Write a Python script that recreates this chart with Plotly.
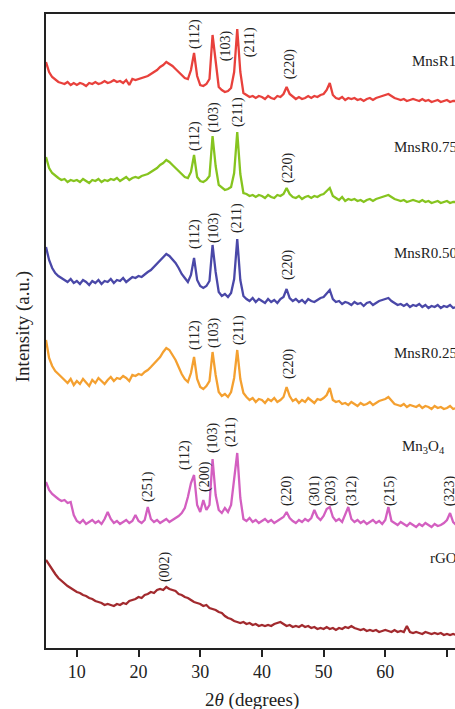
import numpy as np
import plotly.graph_objects as go

# 2-theta grid (degrees)
two_theta = np.arange(5.0, 71.51, 0.5)

# Relative intensities (a.u.), each series on its own baseline
mnsr1 = [38, 28, 23, 20, 18, 17, 16, 18, 15, 17,
         15, 17, 16, 14, 17, 16, 18, 16, 17, 19,
         17, 18, 20, 18, 19, 17, 20, 15, 21, 20,
         21, 22, 23, 24, 26, 28, 30, 33, 35, 38,
         36, 34, 31, 28, 25, 22, 21, 30, 47, 24,
         15, 14, 16, 21, 65, 36, 13, 10, 8, 9,
         12, 28, 71, 28, 7, 5, 3, 4, 2, 4,
         3, 1, 4, 2, 1, 4, 3, 6, 13, 6,
         3, 1, 3, 1, 2, 4, 2, 4, 3, 5,
         6, 10, 17, 5, 2, 1, 3, 0, 2, 1,
         2, 0, 1, -1, 1, 2, 0, 2, 3, 4,
         5, 6, 4, 2, 1, 0, 1, -1, 0, 1,
         0, -1, 1, -1, 0, -2, -1, 0, -2, -1,
         0, -2, -1, -1]

mnsr075 = [43, 32, 27, 24, 22, 20, 21, 18, 20, 19,
           20, 18, 21, 19, 17, 20, 19, 21, 18, 20,
           19, 21, 20, 22, 19, 21, 23, 20, 22, 23,
           22, 24, 25, 26, 28, 30, 32, 35, 37, 40,
           38, 35, 32, 29, 26, 23, 22, 28, 45, 23,
           19, 18, 20, 24, 64, 34, 15, 12, 10, 11,
           13, 27, 68, 26, 7, 6, 4, 5, 3, 5,
           4, 2, 5, 3, 2, 5, 4, 6, 12, 6,
           3, 2, 4, 1, 3, 4, 2, 4, 3, 5,
           6, 9, 12, 4, 2, 0, 3, -1, 1, 0,
           1, -1, 0, -2, 0, 1, -1, 1, 2, 3,
           4, 5, 3, 1, 0, -1, 0, -2, -1, 0,
           -1, -2, 0, -2, -1, -3, -2, -1, -3, -2,
           -1, -3, -2, -2]

mnsr050 = [58, 45, 37, 32, 29, 27, 25, 23, 26, 22,
           24, 21, 25, 23, 20, 24, 22, 25, 21, 24,
           23, 26, 22, 25, 24, 27, 23, 26, 28, 27,
           29, 28, 31, 33, 35, 38, 41, 45, 48, 51,
           49, 46, 42, 37, 31, 27, 23, 30, 47, 25,
           19, 17, 19, 24, 60, 33, 13, 9, 11, 8,
           12, 26, 66, 25, 9, 6, 4, 7, 3, 6,
           4, 2, 6, 3, 5, 2, 6, 8, 16, 7,
           4, 6, 3, 5, 2, 6, 4, 3, 5, 7,
           8, 11, 15, 6, 3, 4, 1, 3, 2, 0,
           3, 1, 2, -1, 2, 3, 0, 2, 4, 5,
           6, 7, 4, 2, 0, 1, -1, 1, -2, 0,
           -1, 1, -2, 0, -3, -1, -2, 0, -3, -1,
           -2, 0, -3, -2]

mnsr025 = [65, 47, 39, 34, 31, 28, 25, 22, 26, 20,
           24, 21, 26, 23, 19, 25, 22, 27, 24, 21,
           25, 28, 24, 27, 26, 29, 27, 24, 30, 29,
           31, 30, 33, 35, 38, 41, 44, 48, 53, 57,
           55, 50, 45, 38, 31, 26, 23, 32, 48, 26,
           18, 16, 19, 24, 53, 30, 13, 9, 11, 8,
           13, 27, 55, 26, 12, 8, 5, 7, 3, 6,
           5, 2, 6, 4, 7, 3, 5, 8, 18, 9,
           4, 6, 2, 5, 3, 7, 4, 2, 6, 5,
           7, 10, 17, 5, 3, 4, 1, 2, 0, 3,
           1, -1, 2, 0, 1, 3, 0, 2, 4, 5,
           6, 8, 4, 1, 0, -1, 1, -2, 0, -1,
           -2, 0, -3, -1, -2, -4, -1, -3, -2, -4,
           -3, -1, -4, -3]

mn3o4 = [43, 35, 31, 28, 26, 24, 25, 22, 23, 10,
         4, 2, 5, 1, 3, 5, 2, 4, 1, 6,
         13, 6, 2, 4, 1, 3, 5, 2, 4, 10,
         4, 2, 5, 18, 6, 3, 5, 2, 4, 6,
         3, 5, 7, 9, 12, 17, 28, 42, 50, 20,
         13, 25, 15, 20, 66, 30, 15, 12, 17, 13,
         20, 45, 72, 27, 6, 4, 7, 3, 5, 2,
         4, 6, 3, 5, 2, 4, 6, 8, 13, 7,
         4, 2, 5, 3, 6, 4, 7, 15, 8, 5,
         9, 16, 18, 8, 4, 6, 3, 10, 18, 6,
         3, 5, 2, 4, 1, 3, 5, 2, 4, 1,
         5, 18, 4, 2, 0, 3, 1, -1, 2, 0,
         -2, 1, -1, 2, 0, -2, 1, -1, 0, 2,
         5, 12, 3, 0]

rgo = [75, 70, 65, 61, 57, 54, 51, 49, 47, 45,
       43, 42, 40, 39, 37, 36, 34, 33, 32, 30,
       31, 30, 29, 31, 30, 32, 31, 34, 35, 36,
       38, 37, 40, 41, 43, 42, 45, 46, 45, 48,
       46, 45, 44, 41, 40, 38, 37, 35, 33, 32,
       31, 29, 30, 27, 26, 25, 23, 22, 19, 17,
       16, 14, 13, 12, 13, 11, 12, 10, 11, 9,
       10, 9, 10, 9, 11, 12, 13, 11, 9, 10,
       8, 9, 8, 10, 8, 9, 7, 8, 6, 7,
       6, 8, 6, 7, 5, 7, 6, 8, 7, 9,
       7, 6, 5, 6, 4, 5, 4, 5, 3, 4,
       5, 4, 3, 5, 3, 4, 3, 9, 3, 2,
       3, 2, 1, 3, 2, 1, 2, 1, 2, 0,
       1, 0, 1, 0]

series_names = ["MnsR1", "MnsR0.75", "MnsR0.50", "MnsR0.25", "Mn<sub>3</sub>O<sub>4</sub>", "rGO"]
series_values = [mnsr1, mnsr075, mnsr050, mnsr025, mn3o4, rgo]
stack_offsets = [548, 448, 343, 243, 123, 13]
colors = ["#e8413c", "#86c41f", "#4a48a8", "#f4a030", "#d35fc0", "#a22a2e"]

# Miller-index labels: (text, 2theta position, intensity position)
peak_labels = [
    ("(112)", 29.16, 614), ("(103)", 34.2, 602), ("(211)", 38.1, 606), ("(220)", 44.6, 584),
    ("(112)", 29.16, 512), ("(103)", 32.16, 531), ("(211)", 36.13, 536), ("(220)", 44.24, 480),
    ("(112)", 29.16, 414), ("(103)", 32.24, 420), ("(211)", 35.97, 430), ("(220)", 44.24, 383),
    ("(112)", 29.16, 313), ("(103)", 32.24, 315), ("(211)", 36.3, 318), ("(220)", 44.4, 284),
    ("(251)", 21.54, 161), ("(112)", 27.54, 193), ("(200)", 30.78, 171), ("(103)", 32.08, 210),
    ("(211)", 35.0, 216), ("(220)", 44.08, 157), ("(301)", 48.62, 157), ("(203)", 51.21, 157),
    ("(312)", 54.62, 157), ("(215)", 60.78, 157), ("(323)", 70.51, 157),
    ("(002)", 24.3, 81),
]
name_positions = [(64.0, 587), (61.1, 501), (61.1, 395), (61.1, 295), (62.4, 201), (66.9, 90)]

FONT = "Liberation Serif"

fig = go.Figure()
for name, vals, off, col in zip(series_names, series_values, stack_offsets, colors):
    fig.add_trace(go.Scatter(
        x=two_theta, y=np.array(vals) + off, mode="lines",
        line=dict(color=col, width=2.3), name=name, showlegend=False,
        hoverinfo="skip"))

annotations = []
for txt, x, y in peak_labels:
    annotations.append(dict(x=x, y=y, xref="x", yref="y", text=txt, showarrow=False,
                            textangle=-90, font=dict(family=FONT, size=14, color="#222"),
                            xanchor="center", yanchor="middle"))
for name, (x, y) in zip(series_names, name_positions):
    annotations.append(dict(x=x, y=y, xref="x", yref="y", text=name, showarrow=False,
                            font=dict(family=FONT, size=15, color="#222"),
                            xanchor="left", yanchor="middle"))
annotations.append(dict(x=-0.0562, y=0.506, xref="paper", yref="paper",
                        text="Intensity (a.u.)", showarrow=False, textangle=-90,
                        font=dict(family=FONT, size=19, color="#222"),
                        xanchor="center", yanchor="middle"))
annotations.append(dict(x=0.5037, y=-0.082, xref="paper", yref="paper",
                        text="2<i>θ</i> (degrees)", showarrow=False,
                        font=dict(family=FONT, size=19, color="#222"),
                        xanchor="center", yanchor="middle"))

fig.update_layout(
    width=455, height=709,
    margin=dict(l=46, r=0, t=14, b=61),
    paper_bgcolor="white", plot_bgcolor="white",
    annotations=annotations,
    xaxis=dict(range=[5, 71.3], tickvals=[10, 20, 30, 40, 50, 60, 70],
               ticks="outside", ticklen=7, tickwidth=1.5, tickcolor="#222",
               showline=True, linecolor="#222", linewidth=1.5, mirror=True,
               showgrid=False, zeroline=False,
               tickfont=dict(family=FONT, size=18, color="#222")),
    yaxis=dict(range=[0, 634], showticklabels=False, ticks="",
               showline=True, linecolor="#222", linewidth=1.5, mirror=False,
               showgrid=False, zeroline=False),
)

fig.write_html("out.html", config={"displayModeBar": False},
               post_script="document.body.style.margin='0';")
